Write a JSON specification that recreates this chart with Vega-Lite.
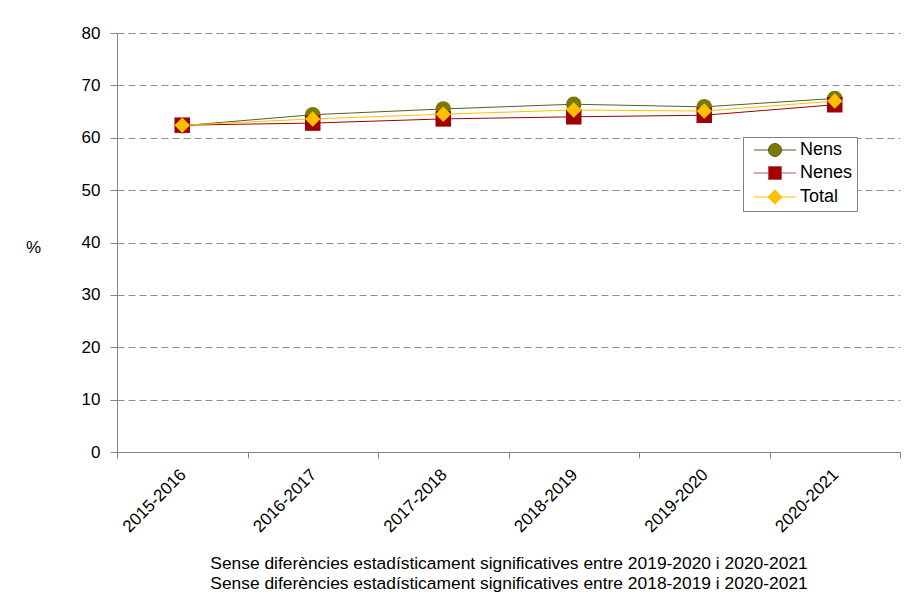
{
  "$schema": "https://vega.github.io/schema/vega-lite/v6.json",
  "width": 783,
  "height": 419,
  "autosize": "none",
  "padding": {"left": 117, "top": 33, "right": 5, "bottom": 147},
  "background": "white",
  "data": {
    "values": [
      {"curs": "2015-2016", "serie": "Nens", "valor": 62.3},
      {"curs": "2016-2017", "serie": "Nens", "valor": 64.4},
      {"curs": "2017-2018", "serie": "Nens", "valor": 65.5},
      {"curs": "2018-2019", "serie": "Nens", "valor": 66.4},
      {"curs": "2019-2020", "serie": "Nens", "valor": 65.9},
      {"curs": "2020-2021", "serie": "Nens", "valor": 67.5},
      {"curs": "2015-2016", "serie": "Nenes", "valor": 62.4},
      {"curs": "2016-2017", "serie": "Nenes", "valor": 62.8},
      {"curs": "2017-2018", "serie": "Nenes", "valor": 63.6},
      {"curs": "2018-2019", "serie": "Nenes", "valor": 64.0},
      {"curs": "2019-2020", "serie": "Nenes", "valor": 64.3},
      {"curs": "2020-2021", "serie": "Nenes", "valor": 66.3},
      {"curs": "2015-2016", "serie": "Total", "valor": 62.4},
      {"curs": "2016-2017", "serie": "Total", "valor": 63.6},
      {"curs": "2017-2018", "serie": "Total", "valor": 64.5},
      {"curs": "2018-2019", "serie": "Total", "valor": 65.3},
      {"curs": "2019-2020", "serie": "Total", "valor": 65.1},
      {"curs": "2020-2021", "serie": "Total", "valor": 67.0}
    ]
  },
  "encoding": {
    "x": {
      "field": "curs",
      "type": "ordinal",
      "sort": null,
      "scale": {"type": "band", "paddingInner": 0, "paddingOuter": 0},
      "axis": {
        "labelAngle": -45,
        "labelFontSize": 17,
        "labelColor": "black",
        "labelPadding": 8,
        "labelOffset": -5,
        "tickBand": "extent",
        "tickSize": 6,
        "tickColor": "#868686",
        "domainColor": "#868686",
        "grid": false,
        "title": [
          "Sense diferències estadísticament significatives entre 2019-2020 i 2020-2021",
          "Sense diferències estadísticament significatives entre 2018-2019 i 2020-2021"
        ],
        "titleFontSize": 17.4,
        "titleFontWeight": "normal",
        "titleColor": "black",
        "titleY": 116,
        "titleBaseline": "alphabetic",
        "titleLineHeight": 20
      }
    },
    "y": {
      "field": "valor",
      "type": "quantitative",
      "scale": {"domain": [0, 80], "nice": false, "zero": true},
      "axis": {
        "values": [0, 10, 20, 30, 40, 50, 60, 70, 80],
        "grid": true,
        "gridDash": [7, 4],
        "gridColor": "#8f8f8f",
        "gridWidth": 1,
        "domainColor": "#868686",
        "tickColor": "#868686",
        "tickSize": 7,
        "labelPadding": 10,
        "labelFontSize": 17,
        "labelColor": "black",
        "title": "%",
        "titleAngle": 0,
        "titleX": -84,
        "titleY": 214,
        "titleAlign": "center",
        "titleBaseline": "middle",
        "titleFontSize": 17,
        "titleFontWeight": "normal",
        "titleColor": "black"
      }
    }
  },
  "layer": [
    {
      "mark": {"type": "line", "strokeWidth": 1},
      "encoding": {
        "stroke": {
          "field": "serie",
          "type": "nominal",
          "scale": {"domain": ["Nens", "Nenes", "Total"], "range": ["#4f6228", "#a00000", "#ffc000"]},
          "legend": null
        }
      }
    },
    {
      "mark": {"type": "point", "filled": true, "size": 240, "opacity": 1},
      "encoding": {
        "fill": {
          "field": "serie",
          "type": "nominal",
          "scale": {"domain": ["Nens", "Nenes", "Total"], "range": ["#7a7a00", "#a00000", "#ffc000"]},
          "legend": null
        },
        "shape": {
          "field": "serie",
          "type": "nominal",
          "scale": {"domain": ["Nens", "Nenes", "Total"], "range": ["circle", "square", "diamond"]},
          "legend": null
        }
      }
    },
    {
      "mark": {"type": "point", "filled": true, "opacity": 0, "strokeWidth": 1},
      "encoding": {
        "shape": {
          "field": "serie",
          "type": "nominal",
          "scale": {"domain": ["Nens", "Nenes", "Total"], "range": [
            "M-0.31,0L1.92,0M3.92,0L6.15,0M3.92,0A1,1,0,1,1,1.92,0A1,1,0,1,1,3.92,0Z",
            "M-0.31,0L1.92,0M3.92,0L6.15,0M1.92,-1L3.92,-1L3.92,1L1.92,1Z",
            "M-0.31,0L1.82,0M4.02,0L6.15,0M2.92,-1.1L4.02,0L2.92,1.1L1.82,0Z"
          ]},
          "legend": {
            "orient": "none",
            "legendX": 626,
            "legendY": 104,
            "title": null,
            "padding": 4,
            "strokeColor": "#808080",
            "fillColor": "white",
            "symbolSize": 169,
            "symbolStrokeWidth": 1,
            "symbolOpacity": 1,
            "labelFontSize": 18,
            "labelColor": "black",
            "labelOffset": 35,
            "rowPadding": 5,
            "labelExpr": "datum.label + '\u00a0\u00a0'"
          }
        },
        "fill": {
          "field": "serie",
          "type": "nominal",
          "scale": {"domain": ["Nens", "Nenes", "Total"], "range": ["#7a7a00", "#a00000", "#ffc000"]},
          "legend": {
            "orient": "none",
            "legendX": 626,
            "legendY": 104,
            "title": null,
            "padding": 4,
            "strokeColor": "#808080",
            "fillColor": "white",
            "symbolSize": 169,
            "symbolStrokeWidth": 1,
            "symbolOpacity": 1,
            "labelFontSize": 18,
            "labelColor": "black",
            "labelOffset": 35,
            "rowPadding": 5,
            "labelExpr": "datum.label + '\u00a0\u00a0'"
          }
        },
        "stroke": {
          "field": "serie",
          "type": "nominal",
          "scale": {"domain": ["Nens", "Nenes", "Total"], "range": ["#4f6228", "#c05050", "#ffc000"]},
          "legend": {
            "orient": "none",
            "legendX": 626,
            "legendY": 104,
            "title": null,
            "padding": 4,
            "strokeColor": "#808080",
            "fillColor": "white",
            "symbolSize": 169,
            "symbolStrokeWidth": 1,
            "symbolOpacity": 1,
            "labelFontSize": 18,
            "labelColor": "black",
            "labelOffset": 35,
            "rowPadding": 5,
            "labelExpr": "datum.label + '\u00a0\u00a0'"
          }
        }
      }
    }
  ],
  "resolve": {"scale": {"shape": "independent", "fill": "independent", "stroke": "independent"}},
  "config": {
    "font": "Liberation Sans",
    "view": {"stroke": null}
  }
}
